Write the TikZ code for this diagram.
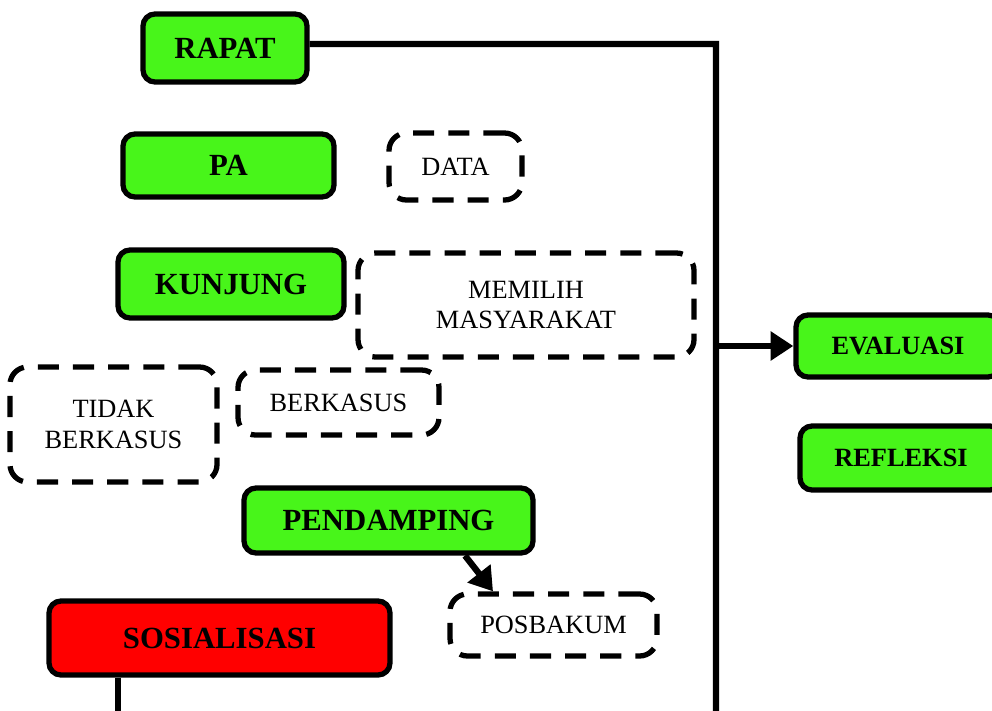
\documentclass[tikz,border=0pt]{standalone}
\usepackage{fontspec}
\setmainfont{Liberation Serif}
\usepackage{tikz}
\usetikzlibrary{positioning,arrows.meta}

\definecolor{boxgreen}{RGB}{72,245,26}
\definecolor{boxred}{RGB}{255,0,0}

\tikzset{
  greenbox/.style={draw,line width=3pt,rounded corners=0.24cm,fill=boxgreen,
    inner sep=0pt,align=center,font=\fontsize{17.5}{20}\selectfont\bfseries},
  redbox/.style={greenbox,fill=boxred},
  dashbox/.style={draw,line width=3pt,rounded corners=0.35cm,
    dash pattern=on 12pt off 8pt,inner sep=0pt,align=center,
    font=\fontsize{15}{17.5}\selectfont},
  link/.style={line width=3.6pt},
  arr/.style={link,-{Triangle[length=13pt,width=16pt]}}
}

\begin{document}
\begin{tikzpicture}
      \useasboundingbox (0,0) rectangle (19.84,-14.2);

      \node[greenbox,minimum width=3.28cm,minimum height=1.36cm] (rapat) at (4.50,-0.96) {RAPAT};
      \node[greenbox,minimum width=4.22cm,minimum height=1.26cm] (pa) at (4.57,-3.31) {PA};
      \node[dashbox,minimum width=2.66cm,minimum height=1.34cm] (data) at (9.11,-3.33) {DATA};
      \node[greenbox,minimum width=4.52cm,minimum height=1.36cm] (kunjung) at (4.62,-5.68) {KUNJUNG};
      \node[dashbox,minimum width=6.72cm,minimum height=2.08cm] (memilih) at (10.52,-6.10) {MEMILIH\\MASYARAKAT};
      \node[dashbox,minimum width=4.14cm,minimum height=2.30cm] (tidak) at (2.27,-8.49) {TIDAK\\BERKASUS};
      \node[dashbox,minimum width=4.02cm,minimum height=1.30cm] (berkasus) at (6.77,-8.05) {BERKASUS};
      \node[greenbox,minimum width=5.78cm,minimum height=1.30cm] (pendamping) at (7.77,-10.41) {PENDAMPING};
      \node[dashbox,minimum width=4.14cm,minimum height=1.24cm] (posbakum) at (11.07,-12.50) {POSBAKUM};
      \node[redbox,minimum width=6.82cm,minimum height=1.48cm] (sosial) at (4.39,-12.76) {SOSIALISASI};
      \node[greenbox,minimum width=4.08cm,minimum height=1.24cm,font=\fontsize{15}{17.5}\selectfont\bfseries] (eval) at (17.96,-6.92) {EVALUASI};
      \node[greenbox,minimum width=4.04cm,minimum height=1.28cm,font=\fontsize{15}{17.5}\selectfont\bfseries] (refleksi) at (18.02,-9.16) {REFLEKSI};

      \coordinate (top) at (14.32,-0.88);
      \coordinate (bot) at (14.32,-14.6);

      %rapat>evaluasi
      \draw[link] ([yshift=0.08cm]rapat.east) -- (top) -- (bot);
      \draw[arr] (eval.west -| top) -- (eval.west);

      %pendamping>posbakum
      \draw[arr] ([xshift=1.53cm]pendamping.south) -- ([xshift=-1.21cm]posbakum.north);

      %sosialisasi
      \draw[link] ([xshift=-2.03cm]sosial.south) -- ++(0,-1);
\end{tikzpicture}
\end{document}
